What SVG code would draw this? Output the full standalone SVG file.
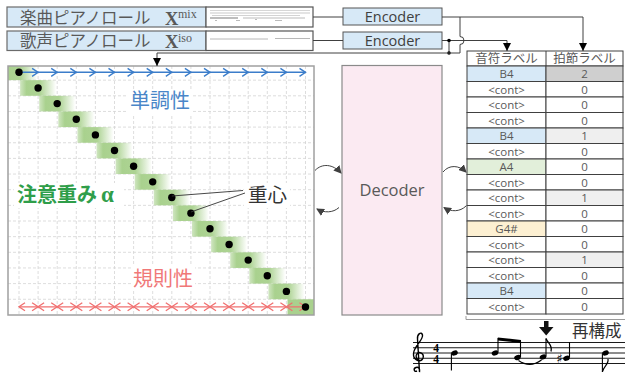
<svg xmlns="http://www.w3.org/2000/svg" width="625" height="376" viewBox="0 0 625 376">
<style>
.jp{font-family:"Noto Sans CJK JP","Noto Sans",sans-serif}
.lat{font-family:"Open Sans","Noto Sans",sans-serif}
.lbl{fill:#d7e9f7;stroke:#6b6b6b;stroke-width:1.2}
.thumb{fill:#fff;stroke:#555;stroke-width:1.2}
.enc{fill:#d7e9f7;stroke:#555;stroke-width:1}
.conn{fill:none;stroke:#404040;stroke-width:1}
.grid{stroke:#d4d4d4;stroke-width:0.8;stroke-dasharray:3 2}
.cell{stroke:#404040;stroke-width:1}
.ct{font-family:"Open Sans","Noto Sans",sans-serif;font-size:11.5px;fill:#595959;text-anchor:middle}
.dot{fill:#000}
.blk{fill:url(#gb)}
.staff{stroke:#000;stroke-width:0.9}
.stem{stroke:#000;stroke-width:1.1}
</style>
<defs>
<linearGradient id="gb" x1="0" y1="0" x2="1" y2="0">
<stop offset="0" stop-color="#a9d18e" stop-opacity="0.55"/>
<stop offset="0.18" stop-color="#a9d18e" stop-opacity="1"/>
<stop offset="0.55" stop-color="#a9d18e" stop-opacity="0.95"/>
<stop offset="1" stop-color="#a9d18e" stop-opacity="0"/>
</linearGradient>
<clipPath id="pc"><rect x="8" y="66" width="306" height="249"/></clipPath>
<marker id="ab" markerUnits="userSpaceOnUse" markerWidth="8" markerHeight="8" viewBox="0 0 8 8" refX="8" refY="4" orient="auto"><path d="M0,0 L8,4 L0,8 z" fill="#000"/></marker>
<marker id="ag" markerUnits="userSpaceOnUse" markerWidth="8" markerHeight="8" viewBox="0 0 8 8" refX="7" refY="4" orient="auto"><path d="M0,0 L8,4 L0,8 z" fill="#404040"/></marker>
<marker id="cb" markerUnits="userSpaceOnUse" markerWidth="10" markerHeight="10" viewBox="-8 -5 10 10" refX="0" refY="0" orient="auto"><path d="M-6,-4 L0,0 L-6,4" fill="none" stroke="#3b7dca" stroke-width="1.4"/></marker>
<marker id="rx" markerUnits="userSpaceOnUse" markerWidth="16" markerHeight="10" viewBox="-8 -5 16 10" refX="0" refY="0" orient="auto"><path d="M-6,-4 L0,0 L-6,4 M6,-4 L0,0 L6,4" fill="none" stroke="#f07070" stroke-width="1.3"/></marker>
<marker id="re" markerUnits="userSpaceOnUse" markerWidth="10" markerHeight="10" viewBox="-8 -5 10 10" refX="0" refY="0" orient="auto-start-reverse"><path d="M-6,-4 L0,0 L-6,4" fill="none" stroke="#f07070" stroke-width="1.3"/></marker>
</defs>

<rect width="625" height="376" fill="#fff"/>

<!-- Inputs -->
<g id="mix-input">
<rect class="lbl" x="7" y="7" width="199" height="20"/>
<rect class="thumb" x="206" y="7" width="107" height="20"/>
<g stroke-width="0.8">
<line x1="210" y1="10.5" x2="310" y2="10.5" stroke="#ccc"/>
<line x1="210" y1="13" x2="310" y2="13" stroke="#bbb"/>
<line x1="212" y1="15.5" x2="300" y2="15.5" stroke="#c8c8c8"/>
<line x1="210" y1="18" x2="238" y2="18" stroke="#999" stroke-width="1.3"/>
<line x1="243" y1="18" x2="305" y2="18" stroke="#aaa"/>
<line x1="215" y1="20.5" x2="217" y2="20.5" stroke="#aaa"/>
<line x1="236" y1="20.5" x2="240" y2="20.5" stroke="#aaa"/>
<line x1="255" y1="19.5" x2="257" y2="19.5" stroke="#aaa"/>
<line x1="275" y1="20.5" x2="282" y2="20.5" stroke="#aaa"/>
</g>
<text class="jp" x="20" y="23.5" font-size="16.5" fill="#595959">楽曲ピアノロール</text>
<text x="165" y="24.5" font-family="Liberation Serif,serif" font-weight="bold" font-size="18.5" fill="#595959">X</text>
<text x="178" y="18" font-family="Liberation Serif,serif" font-size="12" fill="#595959">mix</text>
</g>
<g id="iso-input">
<rect class="lbl" x="7" y="31" width="199" height="19.5"/>
<rect class="thumb" x="206" y="31" width="107" height="19.5"/>
<line x1="210" y1="39" x2="268" y2="39" stroke="#b0b0b0" stroke-width="0.9"/>
<line x1="275" y1="38.5" x2="310" y2="38.5" stroke="#b0b0b0" stroke-width="0.9"/>
<text class="jp" x="20" y="47" font-size="16.5" fill="#595959">歌声ピアノロール</text>
<text x="165" y="48" font-family="Liberation Serif,serif" font-weight="bold" font-size="18.5" fill="#595959">X</text>
<text x="178" y="41.5" font-family="Liberation Serif,serif" font-size="12" fill="#595959">iso</text>
</g>

<g id="encoder1">
<rect class="enc" x="343" y="8" width="99" height="17"/>
<text class="lat" x="392.5" y="22" font-size="14.5" fill="#404040" text-anchor="middle">Encoder</text>
</g>
<g id="encoder2">
<rect class="enc" x="343" y="32" width="99" height="17"/>
<text class="lat" x="392.5" y="46" font-size="14.5" fill="#404040" text-anchor="middle">Encoder</text>
</g>

<!-- Attention panel -->
<g id="attention">
<rect x="8" y="66" width="306" height="249" fill="#fff"/>
<g class="grid">
<line x1="19" y1="66" x2="19" y2="315"/><line x1="38.1" y1="66" x2="38.1" y2="315"/><line x1="57.2" y1="66" x2="57.2" y2="315"/><line x1="76.3" y1="66" x2="76.3" y2="315"/><line x1="95.4" y1="66" x2="95.4" y2="315"/><line x1="114.5" y1="66" x2="114.5" y2="315"/><line x1="133.6" y1="66" x2="133.6" y2="315"/><line x1="152.7" y1="66" x2="152.7" y2="315"/><line x1="171.8" y1="66" x2="171.8" y2="315"/><line x1="190.9" y1="66" x2="190.9" y2="315"/><line x1="210" y1="66" x2="210" y2="315"/><line x1="229.1" y1="66" x2="229.1" y2="315"/><line x1="248.2" y1="66" x2="248.2" y2="315"/><line x1="267.3" y1="66" x2="267.3" y2="315"/><line x1="286.4" y1="66" x2="286.4" y2="315"/><line x1="305.5" y1="66" x2="305.5" y2="315"/>
<line x1="8" y1="80.15" x2="314" y2="80.15"/><line x1="8" y1="95.8" x2="314" y2="95.8"/><line x1="8" y1="111.45" x2="314" y2="111.45"/><line x1="8" y1="127.1" x2="314" y2="127.1"/><line x1="8" y1="142.75" x2="314" y2="142.75"/><line x1="8" y1="158.4" x2="314" y2="158.4"/><line x1="8" y1="174.05" x2="314" y2="174.05"/><line x1="8" y1="189.7" x2="314" y2="189.7"/><line x1="8" y1="205.35" x2="314" y2="205.35"/><line x1="8" y1="221" x2="314" y2="221"/><line x1="8" y1="236.65" x2="314" y2="236.65"/><line x1="8" y1="252.3" x2="314" y2="252.3"/><line x1="8" y1="267.95" x2="314" y2="267.95"/><line x1="8" y1="283.6" x2="314" y2="283.6"/><line x1="8" y1="299.25" x2="314" y2="299.25"/>
</g>
<rect x="128" y="90" width="64" height="24" fill="#fff"/>
<rect x="131" y="266" width="64" height="24" fill="#fff"/>
<rect x="14" y="183" width="110" height="25" fill="#fff"/>
<rect x="244" y="183" width="46" height="25" fill="#fff"/>
<g clip-path="url(#pc)">
<rect class="blk" x="1" y="64.5" width="36" height="15.65"/>
<rect class="blk" x="20.1" y="80.15" width="36" height="15.65"/>
<rect class="blk" x="39.2" y="95.8" width="36" height="15.65"/>
<rect class="blk" x="58.3" y="111.45" width="36" height="15.65"/>
<rect class="blk" x="77.4" y="127.1" width="36" height="15.65"/>
<rect class="blk" x="96.5" y="142.75" width="36" height="15.65"/>
<rect class="blk" x="115.6" y="158.4" width="36" height="15.65"/>
<rect class="blk" x="134.7" y="174.05" width="36" height="15.65"/>
<rect class="blk" x="153.8" y="189.7" width="36" height="15.65"/>
<rect class="blk" x="172.9" y="205.35" width="36" height="15.65"/>
<rect class="blk" x="192" y="221" width="36" height="15.65"/>
<rect class="blk" x="211.1" y="236.65" width="36" height="15.65"/>
<rect class="blk" x="230.2" y="252.3" width="36" height="15.65"/>
<rect class="blk" x="249.3" y="267.95" width="36" height="15.65"/>
<rect class="blk" x="268.4" y="283.6" width="36" height="15.65"/>
<rect x="287.5" y="299.25" width="27" height="15.75" fill="#a9d18e"/>
</g>
<path d="M19,72.3 H38.1 H57.2 H76.3 H95.4 H114.5 H133.6 H152.7 H171.8 H190.9 H210 H229.1 H248.2 H267.3 H286.4 H305.5" fill="none" stroke="#3b7dca" stroke-width="1.4" marker-mid="url(#cb)" marker-end="url(#cb)"/>
<path d="M19,306.8 H38.1 H57.2 H76.3 H95.4 H114.5 H133.6 H152.7 H171.8 H190.9 H210 H229.1 H248.2 H267.3 H286.4 H305.5" fill="none" stroke="#f07070" stroke-width="1.3" marker-start="url(#re)" marker-mid="url(#rx)" marker-end="url(#re)"/>
<g class="dot">
<circle cx="19" cy="72.3" r="3.7"/><circle cx="38.1" cy="87.95" r="3.7"/><circle cx="57.2" cy="103.6" r="3.7"/><circle cx="76.3" cy="119.25" r="3.7"/><circle cx="95.4" cy="134.9" r="3.7"/><circle cx="114.5" cy="150.55" r="3.7"/><circle cx="133.6" cy="166.2" r="3.7"/><circle cx="152.7" cy="181.85" r="3.7"/><circle cx="171.8" cy="197.5" r="3.7"/><circle cx="190.9" cy="213.15" r="3.7"/><circle cx="210" cy="228.8" r="3.7"/><circle cx="229.1" cy="244.45" r="3.7"/><circle cx="248.2" cy="260.1" r="3.7"/><circle cx="267.3" cy="275.75" r="3.7"/><circle cx="286.4" cy="291.4" r="3.7"/><circle cx="305.5" cy="307.05" r="3.7"/>
</g>
<line x1="171.8" y1="196" x2="243" y2="190.5" stroke="#333" stroke-width="0.9"/>
<line x1="190.9" y1="212" x2="245" y2="193" stroke="#333" stroke-width="0.9"/>
<text class="jp" x="160" y="108" font-size="20" fill="#4a86c8" text-anchor="middle">単調性</text>
<text class="jp" x="163" y="286" font-size="20" fill="#f07878" text-anchor="middle">規則性</text>
<text x="17" y="202" font-size="20" font-weight="bold" fill="#2f9e4a"><tspan class="jp">注意重み</tspan><tspan font-family="Liberation Serif,serif" font-size="23" dx="4">α</tspan></text>
<text class="jp" x="248" y="202" font-size="19.5" fill="#333">重心</text>
<rect x="8" y="66" width="306" height="249" fill="none" stroke="#a0a0a0" stroke-width="1.5"/>
</g>

<g id="decoder">
<rect x="342" y="65.5" width="100" height="249.5" fill="#fbeaf2" stroke="#8a8a8a" stroke-width="1.2"/>
<text class="lat" x="392" y="196" font-size="16.5" fill="#595959" text-anchor="middle">Decoder</text>
</g>

<!-- Table -->
<g id="label-table">
<rect x="467" y="51" width="156" height="15" fill="#fff" class="cell"/>
<line class="cell" x1="546" y1="51" x2="546" y2="66"/>
<text class="jp" x="506.5" y="63" font-size="12.5" fill="#595959" text-anchor="middle">音符ラベル</text>
<text class="jp" x="584.5" y="63" font-size="12.5" fill="#595959" text-anchor="middle">拍節ラベル</text>
<g class="cell">
<rect x="467" y="66" width="79" height="15.5" fill="#d7e9f7"/><rect x="546" y="66" width="77" height="15.5" fill="#cfcfcf"/>
<rect x="467" y="81.5" width="79" height="15.5" fill="#fff"/><rect x="546" y="81.5" width="77" height="15.5" fill="#fff"/>
<rect x="467" y="97" width="79" height="15.5" fill="#fff"/><rect x="546" y="97" width="77" height="15.5" fill="#fff"/>
<rect x="467" y="112.5" width="79" height="15.5" fill="#fff"/><rect x="546" y="112.5" width="77" height="15.5" fill="#fff"/>
<rect x="467" y="128" width="79" height="15.5" fill="#d7e9f7"/><rect x="546" y="128" width="77" height="15.5" fill="#efefef"/>
<rect x="467" y="143.5" width="79" height="15.5" fill="#fff"/><rect x="546" y="143.5" width="77" height="15.5" fill="#fff"/>
<rect x="467" y="159" width="79" height="15.5" fill="#e2efda"/><rect x="546" y="159" width="77" height="15.5" fill="#fff"/>
<rect x="467" y="174.5" width="79" height="15.5" fill="#fff"/><rect x="546" y="174.5" width="77" height="15.5" fill="#fff"/>
<rect x="467" y="190" width="79" height="15.5" fill="#fff"/><rect x="546" y="190" width="77" height="15.5" fill="#efefef"/>
<rect x="467" y="205.5" width="79" height="15.5" fill="#fff"/><rect x="546" y="205.5" width="77" height="15.5" fill="#fff"/>
<rect x="467" y="221" width="79" height="15.5" fill="#fdf0d2"/><rect x="546" y="221" width="77" height="15.5" fill="#fff"/>
<rect x="467" y="236.5" width="79" height="15.5" fill="#fff"/><rect x="546" y="236.5" width="77" height="15.5" fill="#fff"/>
<rect x="467" y="252" width="79" height="15.5" fill="#fff"/><rect x="546" y="252" width="77" height="15.5" fill="#efefef"/>
<rect x="467" y="267.5" width="79" height="15.5" fill="#fff"/><rect x="546" y="267.5" width="77" height="15.5" fill="#fff"/>
<rect x="467" y="283" width="79" height="15.5" fill="#d7e9f7"/><rect x="546" y="283" width="77" height="15.5" fill="#fff"/>
<rect x="467" y="298.5" width="79" height="15.5" fill="#fff"/><rect x="546" y="298.5" width="77" height="15.5" fill="#fff"/>
</g>
<g>
<text class="ct" x="506.5" y="78">B4</text><text class="ct" x="584.5" y="78">2</text>
<text class="ct" x="506.5" y="93.5">&lt;cont&gt;</text><text class="ct" x="584.5" y="93.5">0</text>
<text class="ct" x="506.5" y="109">&lt;cont&gt;</text><text class="ct" x="584.5" y="109">0</text>
<text class="ct" x="506.5" y="124.5">&lt;cont&gt;</text><text class="ct" x="584.5" y="124.5">0</text>
<text class="ct" x="506.5" y="140">B4</text><text class="ct" x="584.5" y="140">1</text>
<text class="ct" x="506.5" y="155.5">&lt;cont&gt;</text><text class="ct" x="584.5" y="155.5">0</text>
<text class="ct" x="506.5" y="171">A4</text><text class="ct" x="584.5" y="171">0</text>
<text class="ct" x="506.5" y="186.5">&lt;cont&gt;</text><text class="ct" x="584.5" y="186.5">0</text>
<text class="ct" x="506.5" y="202">&lt;cont&gt;</text><text class="ct" x="584.5" y="202">1</text>
<text class="ct" x="506.5" y="217.5">&lt;cont&gt;</text><text class="ct" x="584.5" y="217.5">0</text>
<text class="ct" x="506.5" y="233">G4#</text><text class="ct" x="584.5" y="233">0</text>
<text class="ct" x="506.5" y="248.5">&lt;cont&gt;</text><text class="ct" x="584.5" y="248.5">0</text>
<text class="ct" x="506.5" y="264">&lt;cont&gt;</text><text class="ct" x="584.5" y="264">1</text>
<text class="ct" x="506.5" y="279.5">&lt;cont&gt;</text><text class="ct" x="584.5" y="279.5">0</text>
<text class="ct" x="506.5" y="295">B4</text><text class="ct" x="584.5" y="295">0</text>
<text class="ct" x="506.5" y="310.5">&lt;cont&gt;</text><text class="ct" x="584.5" y="310.5">0</text>
</g>
<path d="M466,316 V319.5 H625" fill="none" stroke="#9a9a9a" stroke-width="1"/>
</g>

<!-- Reconstruction -->
<g id="reconstruction">
<rect x="544" y="321" width="4.5" height="7" fill="#111"/>
<path d="M539,327 H553.5 L546.2,335.5 z" fill="#111"/>
<text class="jp" x="572" y="337" font-size="16.5" fill="#333">再構成</text>
<g class="staff">
<line x1="413" y1="342.5" x2="625" y2="342.5"/><line x1="413" y1="347.75" x2="625" y2="347.75"/><line x1="413" y1="353" x2="625" y2="353"/><line x1="413" y1="358.25" x2="625" y2="358.25"/><line x1="413" y1="363.5" x2="625" y2="363.5"/>
</g>
<path d="M417,371 C414,372.5 413,368.5 416,367.5 C419,366.5 420,369.5 419.5,372 L417.5,339 C417,334 421.5,331 422.5,335 C423.5,340 414,346 413.5,353.5 C413,360.5 421,363 423,358 C424.5,353.5 419,350.5 416.5,354.5 C415,357 417.5,359.5 418.5,359.5" fill="none" stroke="#000" stroke-width="1.4"/>
<text font-family="Liberation Serif,serif" font-weight="bold" font-size="11.5" fill="#000" text-anchor="middle"><tspan x="436" y="351.8">4</tspan><tspan x="436" y="362.8">4</tspan></text>
<g fill="#000">
<ellipse cx="454.5" cy="353" rx="3.4" ry="2.5" transform="rotate(-22 454.5 353)"/>
<ellipse cx="495" cy="353" rx="3.4" ry="2.5" transform="rotate(-22 495 353)"/>
<ellipse cx="517.5" cy="357.6" rx="3.4" ry="2.5" transform="rotate(-22 517.5 357.6)"/>
<ellipse cx="543" cy="357" rx="3.4" ry="2.5" transform="rotate(-22 543 357)"/>
<ellipse cx="566.5" cy="358.2" rx="3.4" ry="2.5" transform="rotate(-22 566.5 358.2)"/>
<ellipse cx="605.5" cy="353" rx="3.4" ry="2.5" transform="rotate(-22 605.5 353)"/>
<path d="M497.9,337.5 L521,340 L521,343 L497.9,340.5 z"/>
</g>
<g class="stem">
<line x1="451.4" y1="353.5" x2="451.4" y2="370.5"/>
<line x1="498" y1="352.5" x2="498" y2="338"/>
<line x1="520.5" y1="357" x2="520.5" y2="340.5"/>
<line x1="546" y1="356.5" x2="546" y2="338.5"/>
<line x1="569.5" y1="357.5" x2="569.5" y2="342"/>
<line x1="602.4" y1="353.5" x2="602.4" y2="372"/>
</g>
<path d="M546,338.5 C547.5,343 553,345 551,351.5" fill="none" stroke="#000" stroke-width="1.3"/>
<path d="M602.4,372 C603.5,366 609,364.5 608,359" fill="none" stroke="#000" stroke-width="1.2"/>
<path d="M518.5,360.5 Q530,368.5 541.5,360" fill="none" stroke="#000" stroke-width="1.1"/>
<text x="559.5" y="363" font-family="DejaVu Sans,sans-serif" font-size="13" fill="#000" text-anchor="middle">♯</text>
</g>

<!-- Connectors -->
<g id="connectors">
<path class="conn" d="M313,17 H343"/>
<path class="conn" d="M313,40.5 H343"/>
<path class="conn" d="M442,17 H583 V51" marker-end="url(#ab)"/>
<path class="conn" d="M460,17 V36.5 A4,4 0 0 1 460,44.5 V53"/>
<path class="conn" d="M442,40.5 H507 V51" marker-end="url(#ab)"/>
<path class="conn" d="M449,40.5 V53"/>
<circle cx="449" cy="40.5" r="1.8" fill="#000"/>
<circle cx="449" cy="53" r="1.8" fill="#000"/>
<path class="conn" d="M460,53 H157 V66" marker-end="url(#ab)"/>
<path class="conn" d="M315,170.5 C322,163 333,164 341,173" marker-end="url(#ag)"/>
<path class="conn" d="M339,207.5 C333,213 324,213 317,209" marker-end="url(#ag)"/>
<path class="conn" d="M443,172 C449,164.5 459,165 466,172" marker-end="url(#ag)"/>
<path class="conn" d="M466,206 C460,212 451,212 444,207.5" marker-end="url(#ag)"/>
</g>
</svg>
